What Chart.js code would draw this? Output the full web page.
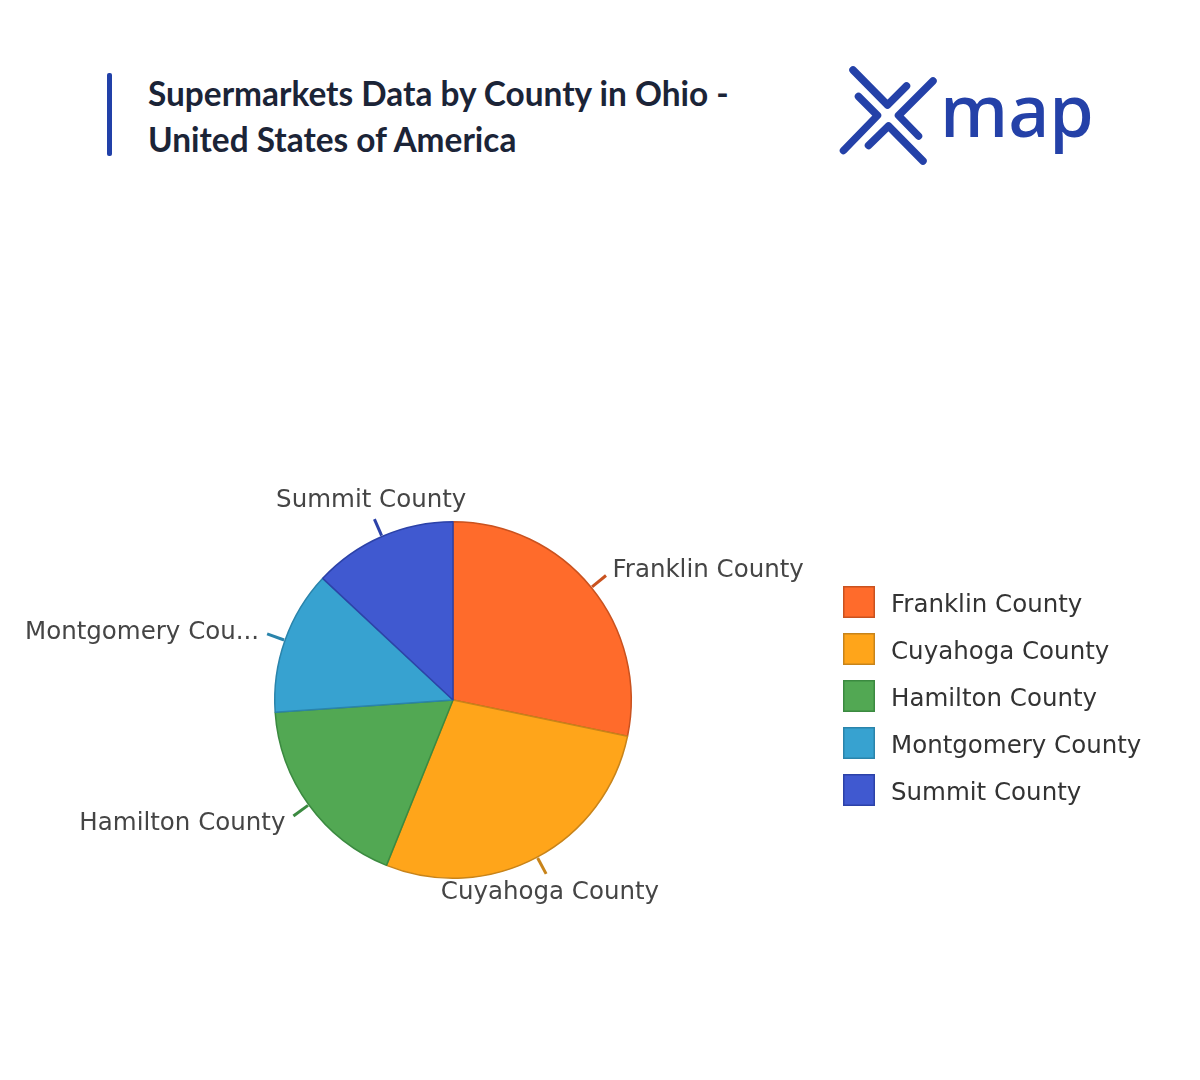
<!DOCTYPE html>
<html>
<head>
<meta charset="utf-8">
<script src="https://cdn.jsdelivr.net/npm/chart.js@4.4.1/dist/chart.umd.min.js"></script>
<style>
  html, body { margin: 0; padding: 0; background: #ffffff; }
  #page { position: relative; width: 1200px; height: 1080px; overflow: hidden; }
  #chart { position: absolute; left: 0; top: 0; }
  .title-bar { position: absolute; left: 107px; top: 73px; width: 5px; height: 83px; background: #2140a8; border-radius: 2px; }
  .title {
    position: absolute; left: 148px; top: 70px; margin: 0;
    font-family: Lato, sans-serif; font-weight: 700; font-size: 33.4px;
    line-height: 46px; color: #1b2437;
  }
  #logo { position: absolute; left: 0; top: 0; }
</style>
</head>
<body>
<div id="page">
  <div class="title-bar"></div>
  <h1 class="title">Supermarkets Data by County in Ohio -<br>United States of America</h1>
  <svg id="logo" width="1200" height="200">
    <g fill="none" stroke="#2441a8" stroke-width="7.5" stroke-linecap="round" stroke-linejoin="round">
      <polyline points="853,70 887.5,105 906.5,86"/>
      <polyline points="933,81 898.5,115.5 918.5,136"/>
      <polyline points="858.5,96.5 877.5,115.5 843.5,150.5"/>
      <polyline points="868.5,145.5 888.5,126 923,161"/>
    </g>
    <text x="940" y="137" font-family="'Noto Sans', sans-serif" font-weight="500" font-size="72" fill="#2441a8">map</text>
  </svg>
  <canvas id="chart" width="1200" height="1080"></canvas>
</div>
<script>
// ── Data ──────────────────────────────────────────
const counties = ['Franklin County', 'Cuyahoga County', 'Hamilton County', 'Montgomery County', 'Summit County'];
const supermarkets = [65, 64, 41, 30, 30];
const sliceColors = ['#ff6b2b', '#ffa51a', '#52a853', '#37a2d0', '#4059d0'];
const edgeColors = ['#c9521f', '#c8841a', '#3b8a40', '#2a84ab', '#2c42a8'];

const LABEL_FONT = "24.5px 'DejaVu Sans', Verdana, sans-serif";
const MAX_LABEL_WIDTH = 236;

function fitLabel(ctx, text) {
  if (ctx.measureText(text).width <= MAX_LABEL_WIDTH) return text;
  let t = text;
  while (t.length > 1 && ctx.measureText(t + '...').width > MAX_LABEL_WIDTH) t = t.slice(0, -1);
  return t.trimEnd() + '...';
}

// ── Outside labels with short leader lines ────────
const outsideLabels = {
  id: 'outsideLabels',
  afterDatasetsDraw(chart) {
    const ctx = chart.ctx;
    const arcs = chart.getDatasetMeta(0).data;
    ctx.save();
    ctx.font = LABEL_FONT;
    arcs.forEach((arc, i) => {
      const mid = (arc.startAngle + arc.endAngle) / 2;
      const dx = Math.cos(mid), dy = Math.sin(mid);
      const r0 = arc.outerRadius + 1, r1 = arc.outerRadius + 19;
      const ex = arc.x + dx * r1, ey = arc.y + dy * r1;

      ctx.strokeStyle = edgeColors[i];
      ctx.lineWidth = 3;
      ctx.beginPath();
      ctx.moveTo(arc.x + dx * r0, arc.y + dy * r0);
      ctx.lineTo(ex, ey);
      ctx.stroke();

      const text = fitLabel(ctx, chart.data.labels[i]);
      ctx.fillStyle = '#454545';
      ctx.textBaseline = 'alphabetic';
      if (Math.abs(dx) < 0.6) {
        ctx.textAlign = 'center';
        ctx.fillText(text, ex + dx * 8, dy < 0 ? ey - 12 : ey + 25);
      } else {
        ctx.textAlign = dx > 0 ? 'left' : 'right';
        ctx.fillText(text, ex + (dx > 0 ? 6.5 : -8), ey + 8 + dy * 10);
      }
    });
    ctx.restore();
  }
};

// ── Legend on the right ───────────────────────────
const sideLegend = {
  id: 'sideLegend',
  afterDraw(chart) {
    const ctx = chart.ctx;
    const bg = chart.data.datasets[0].backgroundColor;
    ctx.save();
    ctx.font = LABEL_FONT;
    ctx.textAlign = 'left';
    ctx.textBaseline = 'alphabetic';
    chart.data.labels.forEach((label, i) => {
      const top = 586 + i * 47;
      ctx.fillStyle = bg[i];
      ctx.fillRect(843, top, 32, 32);
      ctx.strokeStyle = edgeColors[i];
      ctx.lineWidth = 1.5;
      ctx.strokeRect(843.75, top + 0.75, 30.5, 30.5);
      ctx.fillStyle = '#333333';
      ctx.fillText(label, 891, top + 25.7);
    });
    ctx.restore();
  }
};

new Chart(document.getElementById('chart').getContext('2d'), {
  type: 'pie',
  data: {
    labels: counties,
    datasets: [{
      data: supermarkets,
      backgroundColor: sliceColors,
      borderColor: edgeColors,
      borderWidth: 1.5,
    }],
  },
  options: {
    responsive: false,
    animation: false,
    layout: { padding: { left: 274, top: 521, right: 568, bottom: 201 } },
    plugins: {
      legend: { display: false },
      tooltip: { enabled: false },
    },
  },
  plugins: [outsideLabels, sideLegend],
});
</script>
</body>
</html>
